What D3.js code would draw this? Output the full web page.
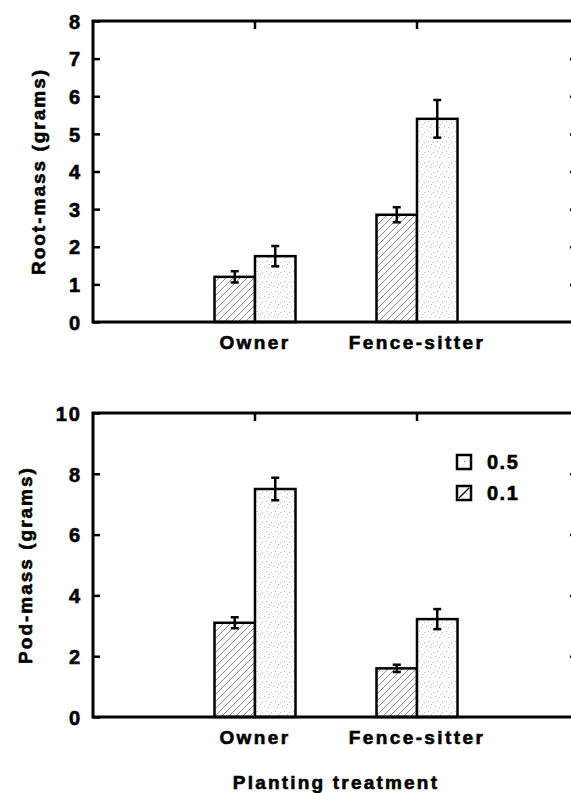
<!DOCTYPE html>
<html>
<head>
<meta charset="utf-8">
<script src="https://cdn.jsdelivr.net/npm/d3@7/dist/d3.min.js"></script>
<style>
  body { margin: 0; background: #fff; }
  svg text { font-family: "Liberation Sans", Arial, sans-serif; font-weight: bold; fill: #000; stroke: #000; stroke-width: 0.6px; }
</style>
</head>
<body>
<div id="chart"></div>
<script>
// categories and series
var categories = ['Owner', 'Fence-sitter'];
var seriesNames = ['0.1', '0.5'];

// root mass (grams), mean and error per category
var root01 = [1.2, 2.85],  rootErr01 = [0.15, 0.2];
var root05 = [1.75, 5.4],  rootErr05 = [0.27, 0.5];

// pod mass (grams)
var pod01 = [3.1, 1.6],    podErr01 = [0.18, 0.12];
var pod05 = [7.5, 3.22],   podErr05 = [0.37, 0.33];

var rootTicks = [0, 1, 2, 3, 4, 5, 6, 7, 8];
var podTicks = [0, 2, 4, 6, 8, 10];

var width = 571, height = 793;

var svg = d3.select('#chart').append('svg')
  .attr('width', width)
  .attr('height', height);

var defs = svg.append('defs');

// hatch for 0.1
var hatch = defs.append('pattern')
  .attr('id', 'hatch')
  .attr('patternUnits', 'userSpaceOnUse')
  .attr('width', 7).attr('height', 7);
hatch.append('path')
  .attr('d', 'M-1,8 L8,-1 M-4,4 L4,-4 M3,11 L11,3')
  .attr('stroke', '#555').attr('stroke-width', 0.7);

// sparse dots for 0.5
var dots = defs.append('pattern')
  .attr('id', 'dots')
  .attr('patternUnits', 'userSpaceOnUse')
  .attr('width', 9).attr('height', 10);
[[1, 2], [5, 1], [3, 6], [7, 7], [8, 4]].forEach(function(p) {
  dots.append('rect')
    .attr('x', p[0]).attr('y', p[1])
    .attr('width', 1).attr('height', 1)
    .attr('fill', '#bbb');
});

var x = d3.scalePoint()
  .domain(['', categories[0], categories[1], ' '])
  .range([93, 579]);
var barW = x.step() * 0.25;

function drawPanel(top, bottom, maxV, ticks, means01, errs01, means05, errs05, ylabel, labelX) {
  var y = d3.scaleLinear().domain([0, maxV]).range([bottom, top]);
  var g = svg.append('g');

  // left ticks (inward)
  g.append('g')
    .attr('transform', 'translate(93,0)')
    .call(d3.axisLeft(y).tickValues(ticks).tickSize(-7).tickPadding(11))
    .call(function(a) {
      a.select('.domain').remove();
      a.selectAll('line').attr('stroke', '#000').attr('stroke-width', 2.5);
      a.selectAll('text')
        .style('font-size', '20px')
        .style('letter-spacing', '2px')
        .attr('dy', '0.36em');
    });

  // right ticks (inward)
  g.append('g')
    .attr('transform', 'translate(579,0)')
    .call(d3.axisRight(y).tickValues(ticks.slice(1, -1)).tickSize(-9).tickFormat(''))
    .call(function(a) {
      a.select('.domain').remove();
      a.selectAll('line').attr('stroke', '#000').attr('stroke-width', 2.5);
    });

  // top ticks at category centres
  g.selectAll('.topTick')
    .data(categories)
    .enter().append('line')
    .attr('x1', function(d) { return x(d); })
    .attr('x2', function(d) { return x(d); })
    .attr('y1', top).attr('y2', top + 8)
    .attr('stroke', '#000').attr('stroke-width', 2.5);

  var bars = [
    {means: means01, errs: errs01, off: -1, fill: 'url(#hatch)'},
    {means: means05, errs: errs05, off: 0, fill: 'url(#dots)'}
  ];

  bars.forEach(function(s) {
    var bg = g.append('g');
    bg.selectAll('rect')
      .data(categories)
      .enter().append('rect')
      .attr('x', function(d) { return x(d) + s.off * barW; })
      .attr('y', function(d, i) { return y(s.means[i]); })
      .attr('width', barW)
      .attr('height', function(d, i) { return y(0) - y(s.means[i]); })
      .attr('fill', '#fff');
    bg.selectAll('rect.pat')
      .data(categories)
      .enter().append('rect')
      .attr('class', 'pat')
      .attr('x', function(d) { return x(d) + s.off * barW; })
      .attr('y', function(d, i) { return y(s.means[i]); })
      .attr('width', barW)
      .attr('height', function(d, i) { return y(0) - y(s.means[i]); })
      .attr('fill', s.fill)
      .attr('stroke', '#000')
      .attr('stroke-width', 2.5);

    // error bars
    categories.forEach(function(d, i) {
      var cx = x(d) + s.off * barW + barW / 2;
      var hi = y(s.means[i] + s.errs[i]), lo = y(s.means[i] - s.errs[i]);
      bg.append('line').attr('x1', cx).attr('x2', cx).attr('y1', hi).attr('y2', lo)
        .attr('stroke', '#000').attr('stroke-width', 2.5);
      [hi, lo].forEach(function(yy) {
        bg.append('line').attr('x1', cx - 4).attr('x2', cx + 4).attr('y1', yy).attr('y2', yy)
          .attr('stroke', '#000').attr('stroke-width', 2.5);
      });
    });
  });

  // frame
  g.append('rect')
    .attr('x', 93).attr('y', top)
    .attr('width', 579 - 93).attr('height', bottom - top)
    .attr('fill', 'none')
    .attr('stroke', '#000')
    .attr('stroke-width', 3);

  // category labels
  g.selectAll('.cat')
    .data(categories)
    .enter().append('text')
    .attr('x', function(d) { return x(d); })
    .attr('y', bottom + 27)
    .attr('text-anchor', 'middle')
    .style('font-size', '19px')
    .style('letter-spacing', '2.4px')
    .text(function(d) { return d; });

  g.append('text')
    .attr('transform', 'translate(' + labelX + ',' + ((top + bottom) / 2) + ') rotate(-90)')
    .attr('text-anchor', 'middle')
    .style('font-size', '19px')
    .style('letter-spacing', '2px')
    .text(ylabel);

  return y;
}

drawPanel(21, 322, 8, rootTicks, root01, rootErr01, root05, rootErr05, 'Root-mass (grams)', 45);
drawPanel(413, 717, 10, podTicks, pod01, podErr01, pod05, podErr05, 'Pod-mass (grams)', 32);

// legend
var legend = svg.append('g').attr('transform', 'translate(457,455)');
var legendItems = [
  {name: seriesNames[1]},
  {name: seriesNames[0]}
];
legendItems.forEach(function(d, i) {
  var row = legend.append('g').attr('transform', 'translate(0,' + (i * 31) + ')');
  row.append('rect')
    .attr('width', 14).attr('height', 14)
    .attr('fill', '#fff')
    .attr('stroke', '#000').attr('stroke-width', 2.5);
  if (i === 0) {
    row.append('rect').attr('x', 7).attr('y', 6).attr('width', 1).attr('height', 1).attr('fill', '#555');
  } else {
    row.append('line').attr('x1', 2).attr('y1', 12).attr('x2', 12).attr('y2', 2)
      .attr('stroke', '#000').attr('stroke-width', 1.2);
  }
  row.append('text')
    .attr('x', 30).attr('y', 7)
    .attr('dy', '0.36em')
    .style('font-size', '20px')
    .style('letter-spacing', '1.5px')
    .text(d.name);
});

svg.append('text')
  .attr('x', 336).attr('y', 789)
  .attr('text-anchor', 'middle')
  .style('font-size', '19px')
  .style('letter-spacing', '2.2px')
  .text('Planting treatment');
</script>
</body>
</html>
